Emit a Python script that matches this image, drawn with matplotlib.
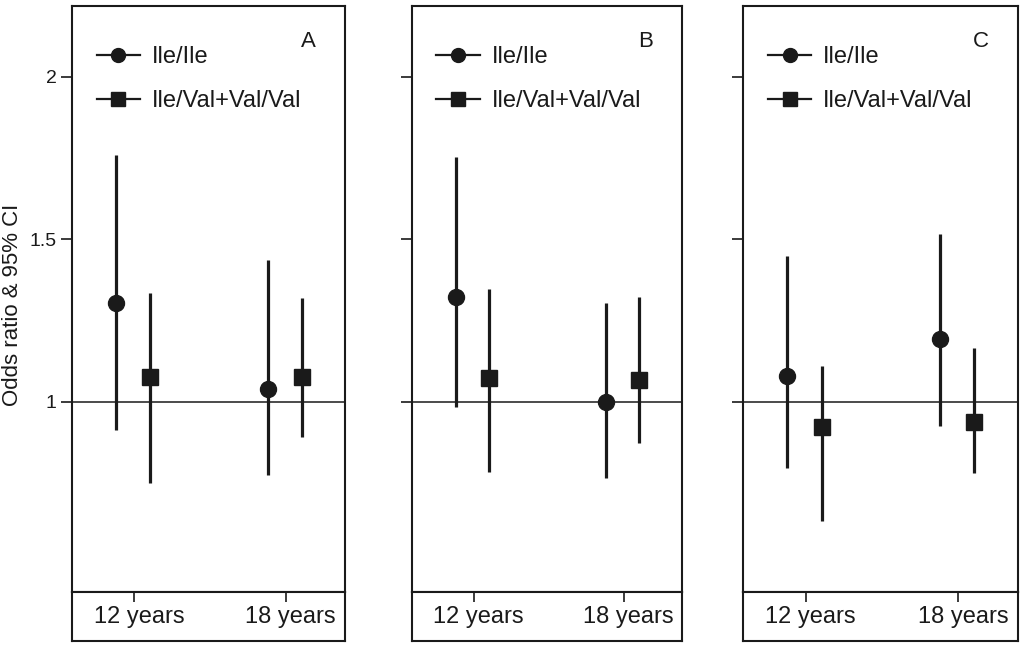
import matplotlib
matplotlib.use("Agg")
import matplotlib.pyplot as plt
from matplotlib.lines import Line2D

plt.rcParams['font.family'] = ['Liberation Sans', 'DejaVu Sans']

categories = ["12 years", "18 years"]
groups = ["Ile/Ile", "Ile/Val+Val/Val"]
panels = ["A", "B", "C"]

# odds ratio, lower and upper 95% CI per panel, [12 years, 18 years]
or_ile = {"A": [1.305, 1.040], "B": [1.322, 1.000], "C": [1.079, 1.193]}
lo_ile = {"A": [0.914, 0.775], "B": [0.985, 0.765], "C": [0.795, 0.926]}
hi_ile = {"A": [1.760, 1.437], "B": [1.753, 1.305], "C": [1.450, 1.518]}

or_val = {"A": [1.077, 1.077], "B": [1.074, 1.066], "C": [0.924, 0.939]}
lo_val = {"A": [0.751, 0.892], "B": [0.784, 0.873], "C": [0.634, 0.782]}
hi_val = {"A": [1.335, 1.320], "B": [1.346, 1.323], "C": [1.110, 1.165]}

ink = '#1a1a1a'
W, H = 1024, 649
fig = plt.figure(figsize=(W / 100, H / 100), dpi=100)

lefts = [72, 412, 743]
widths = [273, 270, 275]
xpos = [1, 2]
off_ile, off_val = -0.12, 0.105
xlim = (0.589, 2.39)
ylim = (0.415, 2.218)

for i, p in enumerate(panels):
    l = lefts[i] / W
    w = widths[i] / W
    ax = fig.add_axes([l, 1 - 592 / H, w, 586 / H])
    sx = fig.add_axes([l, 1 - 641 / H, w, 49 / H])

    ax.set_xlim(xlim)
    ax.set_ylim(ylim)
    ax.axhline(1, color=ink, lw=1.1, zorder=1)

    x1 = [x + off_ile for x in xpos]
    x2 = [x + off_val for x in xpos]
    ax.vlines(x1, lo_ile[p], hi_ile[p], color=ink, lw=2.3, zorder=2)
    ax.vlines(x2, lo_val[p], hi_val[p], color=ink, lw=2.3, zorder=2)
    ax.plot(x1, or_ile[p], 'o', color=ink, ms=11.5, zorder=3)
    ax.plot(x2, or_val[p], 's', color=ink, ms=11, zorder=3)

    ax.set_xticks([])
    ax.set_yticks([1, 1.5, 2])
    ax.tick_params(axis='y', direction='out', length=8, width=1.2, color=ink,
                   pad=3, labelsize=14, labelcolor=ink)
    if i == 0:
        ax.set_yticklabels(["1", "1.5", "2"])
        ax.set_ylabel("Odds ratio & 95% CI", fontsize=16, color=ink)
        ax.yaxis.set_label_coords(-0.18, 0.49)
    else:
        ax.set_yticklabels([])
    for s in ax.spines.values():
        s.set_linewidth(1.5)
        s.set_color(ink)

    handles = [Line2D([], [], color=ink, lw=1.6, marker='o', ms=10),
               Line2D([], [], color=ink, lw=1.6, marker='s', ms=9.5)]
    ax.legend(handles, groups, loc='upper left', bbox_to_anchor=(0.09, 0.932),
              frameon=False, borderaxespad=0, borderpad=0, fontsize=17,
              handlelength=1.85, handletextpad=0.5, labelspacing=0.93,
              labelcolor=ink)
    ax.text(0.865, 0.94, p, transform=ax.transAxes, fontsize=16, color=ink,
            ha='center', va='center')

    sx.set_xlim(xlim)
    sx.set_ylim(0, 1)
    sx.set_yticks([])
    sx.set_xticks(xpos)
    sx.set_xticklabels([])
    sx.tick_params(axis='x', top=True, bottom=False, direction='in',
                   length=7, width=1.2, color=ink)
    for x, c in zip(xpos, categories):
        sx.text(x + 0.03, 0.48, c, fontsize=17, color=ink, ha='center', va='center')
    for s in sx.spines.values():
        s.set_linewidth(1.5)
        s.set_color(ink)

fig.savefig("out.png", dpi=100)
